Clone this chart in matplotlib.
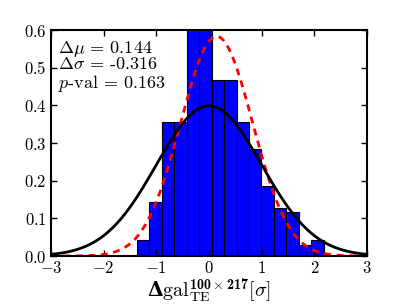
import numpy as np
import matplotlib
matplotlib.use("Agg")
import matplotlib.pyplot as plt
from matplotlib.ticker import FuncFormatter

plt.rcParams['mathtext.fontset'] = 'cm'
plt.rcParams['font.family'] = 'DejaVu Serif'
# fonts used by the x label (math_fontfamily='custom')
plt.rcParams['mathtext.rm'] = 'cmr10'
plt.rcParams['mathtext.it'] = 'cmmi10'
plt.rcParams['mathtext.bf'] = 'cmb10'
plt.rcParams['mathtext.sf'] = 'DejaVu Serif:bold'
plt.rcParams['mathtext.fallback'] = 'cm'

# histogram (density)
bin_edges = [-1.366, -1.130, -0.894, -0.658, -0.422, -0.186, 0.050, 0.286,
             0.522, 0.758, 0.994, 1.230, 1.466, 1.702, 1.938, 2.174]
densities = [0.043, 0.143, 0.355, 0.355, 0.625, 0.625, 0.468, 0.468,
             0.355, 0.285, 0.185, 0.127, 0.116, 0.028, 0.043]

# fitted shift / width change
d_mu = 0.144
d_sigma = -0.316
p_val = 0.163


def gauss(x, mu, sig):
    return np.exp(-0.5 * ((x - mu) / sig) ** 2) / (sig * np.sqrt(2 * np.pi))


fig = plt.figure(figsize=(4.07, 3.07), dpi=100)
ax = fig.add_axes([0.125, 0.166, 0.777, 0.736])

lefts = np.array(bin_edges[:-1])
widths = np.diff(bin_edges)
ax.bar(lefts, densities, width=widths, align='edge', color='#0000ff',
       edgecolor='black', linewidth=0.8, zorder=1)

x = np.linspace(-3, 3, 400)
ax.plot(x, gauss(x, 0.0, 1.0), color='black', lw=2, zorder=3)
ax.plot(x, gauss(x, d_mu, 1 + d_sigma), color='red', lw=2, ls=(0, (2.5, 2)),
        zorder=2)

ax.set_xlim(-3, 3)
ax.set_ylim(0, 0.6)
ax.set_xticks(range(-3, 4))
ax.set_yticks(np.arange(0, 0.61, 0.1))
ax.xaxis.set_major_formatter(FuncFormatter(lambda v, p: r'$%d$' % v))
ax.yaxis.set_major_formatter(FuncFormatter(lambda v, p: r'$%.1f$' % v))
ax.tick_params(direction='in', top=True, right=True, length=4, width=1,
               labelsize=12, pad=3)
for s in ax.spines.values():
    s.set_linewidth(1.5)

lines = [r'$\Delta\mu$ = %.3f' % d_mu,
         r'$\Delta\sigma$ = %.3f' % d_sigma,
         r'$p$-val = %.3f' % p_val]
for i, t in enumerate(lines):
    ax.text(0.022, 0.962 - i * 0.077, t, transform=ax.transAxes, va='top',
            ha='left', fontsize=13, family=['cmr10', 'DejaVu Serif'])

ax.set_xlabel(r'$\mathsf{\Delta}\mathrm{gal}_{\mathrm{TE}}^{\mathbf{100}\times\mathbf{217}}[\sigma]$',
              fontsize=14.5, labelpad=0, math_fontfamily='custom')

fig.savefig('out.png', dpi=100)
